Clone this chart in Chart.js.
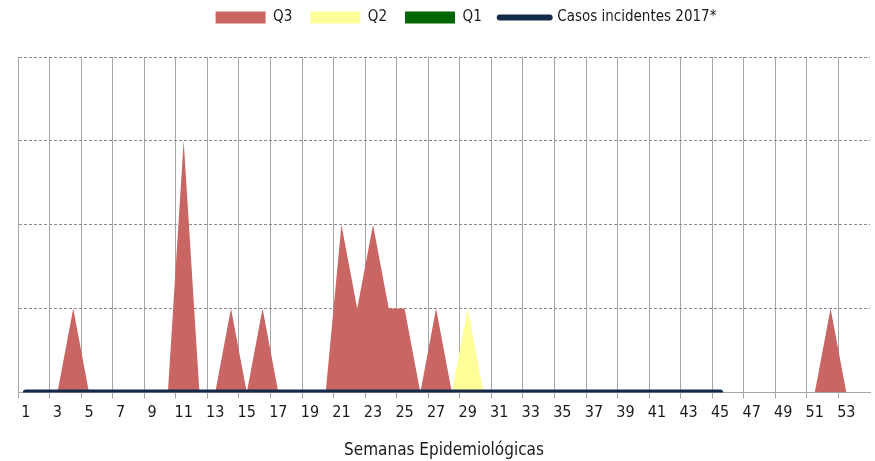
<!DOCTYPE html>
<html>
<head>
<meta charset="utf-8">
<script src="https://cdn.jsdelivr.net/npm/chart.js@4.4.1/dist/chart.umd.min.js"></script>
<style>
  html, body { margin: 0; padding: 0; background: #fff; }
  #wrap { width: 875px; height: 461px; }
</style>
</head>
<body>
<div id="wrap"><canvas class="chart-1"></canvas></div>
<script>
// semanas 1..54
var weeks = [];
for (var w = 1; w <= 54; w++) weeks.push(String(w));

var q3 = [0,0,0,1,0,0,0,0,0,0, 3,0,0,1,0,1,0,0,0,0, 2,1,2,1,1,0,1,0,0,0,
          0,0,0,0,0,0,0,0,0,0, 0,0,0,0,0,0,0,0,0,0, 0,1,0,0];
var q2 = [0,0,0,0,0,0,0,0,0,0, 0,0,0,0,0,0,0,0,0,0, 0,0,0,0,0,0,0,0,1,0,
          0,0,0,0,0,0,0,0,0,0, 0,0,0,0,0,0,0,0,0,0, 0,0,0,0];
var q1 = [0,0,0,0,0,0,0,0,0,0, 0,0,0,0,0,0,0,0,0,0, 0,0,0,0,0,0,0,0,0,0,
          0,0,0,0,0,0,0,0,0,0, 0,0,0,0,0,0,0,0,0,0, 0,0,0,0];
var casos2017 = [0,0,0,0,0,0,0,0,0,0, 0,0,0,0,0,0,0,0,0,0, 0,0,0,0,0,0,0,0,0,0,
          0,0,0,0,0,0,0,0,0,0, 0,0,0,0,0,null,null,null,null,null, null,null,null,null];

var narrow = '"Liberation Sans Narrow", "DejaVu Sans Condensed", sans-serif';

// legend: fixed height, shifted a bit to the right like the original
var legendBox = {
    id: 'legendBox',
    beforeInit: function (chart) {
        var fit = chart.legend.fit;
        chart.legend.fit = function () {
            fit.bind(chart.legend)();
            this.height = 65;
        };
    },
    afterLayout: function (chart) {
        chart.legend.left += 22;
        chart.legend.right += 22;
    }
};

var ctx1 = document.querySelector(".chart-1");
const chart1 = new Chart(ctx1, {
    type: 'line',
    data: {
        labels: weeks,
        datasets: [
            {
                label: 'Q3',
                data: q3,
                fill: 'origin',
                backgroundColor: '#c96562',
                borderColor: 'rgba(0,0,0,0)',
                borderWidth: 1,
                pointRadius: 0,
                order: 3
            },
            {
                label: 'Q2',
                data: q2,
                fill: 'origin',
                backgroundColor: '#ffff99',
                borderColor: 'rgba(0,0,0,0)',
                borderWidth: 1,
                pointRadius: 0,
                order: 2
            },
            {
                label: 'Q1',
                data: q1,
                fill: 'origin',
                backgroundColor: '#006600',
                borderColor: 'rgba(0,0,0,0)',
                borderWidth: 1,
                pointRadius: 0,
                order: 1
            },
            {
                label: 'Casos incidentes 2017*',
                data: casos2017,
                fill: false,
                borderColor: '#132a4b',
                backgroundColor: '#132a4b',
                borderWidth: 6,
                borderCapStyle: 'round',
                pointRadius: 0,
                order: 0
            }
        ]
    },
    options: {
        responsive: true,
        maintainAspectRatio: false,
        animation: false,
        layout: {
            padding: { left: 18, right: 5, top: -8, bottom: 0 }
        },
        plugins: {
            tooltip: { enabled: false },
            legend: {
                position: 'top',
                labels: {
                    usePointStyle: true,
                    pointStyleWidth: 50,
                    boxHeight: 12,
                    padding: 18,
                    color: '#1a1a1a',
                    font: { family: narrow, size: 15 },
                    generateLabels: function (chart) {
                        return chart.data.datasets.map(function (ds, i) {
                            var isLine = i === 3;
                            return {
                                text: ds.label,
                                datasetIndex: i,
                                fillStyle: ds.backgroundColor,
                                strokeStyle: isLine ? ds.borderColor : ds.backgroundColor,
                                lineWidth: isLine ? 6 : 0,
                                lineCap: isLine ? 'round' : 'butt',
                                pointStyle: isLine ? 'line' : 'rect',
                                fontColor: '#1a1a1a',
                                hidden: false
                            };
                        });
                    }
                }
            }
        },
        scales: {
            x: {
                offset: true,
                grid: {
                    offset: true,
                    drawOnChartArea: true,
                    tickLength: 6,
                    color: function (c) { return c.index % 2 === 0 ? '#a6a6a6' : 'rgba(0,0,0,0)'; }
                },
                border: { color: '#a6a6a6', width: 1 },
                ticks: {
                    autoSkip: false,
                    maxRotation: 0,
                    padding: 5,
                    color: '#1a1a1a',
                    font: { family: narrow, size: 16 },
                    callback: function (v, i) { return i % 2 === 0 ? weeks[i] : ''; }
                },
                title: {
                    display: true,
                    text: 'Semanas Epidemiológicas',
                    color: '#1a1a1a',
                    font: { family: narrow, size: 17 },
                    padding: { top: 13, bottom: 0 }
                }
            },
            y: {
                min: 0,
                max: 4,
                ticks: { display: false, stepSize: 1 },
                grid: { drawTicks: false, color: '#8c8c8c' },
                border: { display: true, color: '#a6a6a6', width: 1, dash: [3, 2] }
            }
        }
    },
    plugins: [legendBox]
})
</script>
</body>
</html>
